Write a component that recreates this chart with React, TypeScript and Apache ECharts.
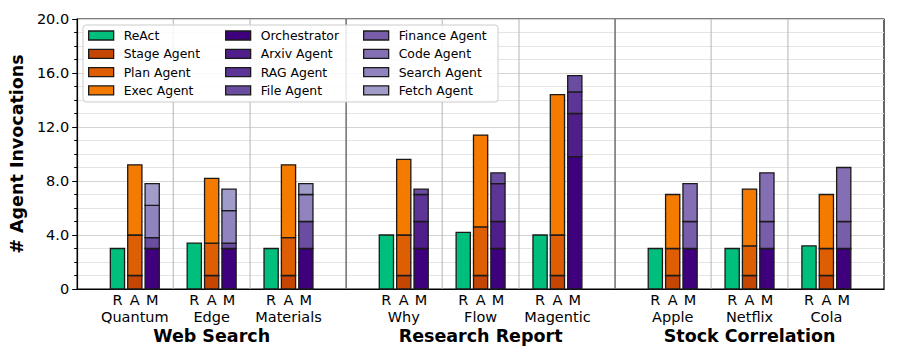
import React, { useEffect, useRef } from "react";
import * as echarts from "echarts";

// ---- data ----
const GROUPS = ["Quantum", "Edge", "Materials", "Why", "Flow", "Magentic", "Apple", "Netflix", "Cola"];
const SECTIONS = ["Web Search", "Research Report", "Stock Correlation"];
const BAR_LABELS = ["R", "A", "M"];

// segment values per group (same order as GROUPS)
const REACT = [3.0, 3.4, 3.0, 4.0, 4.2, 4.0, 3.0, 3.0, 3.2];
const STAGE = [1.0, 1.0, 1.0, 1.0, 1.0, 1.0, 1.0, 1.0, 1.0];
const PLAN = [3.0, 2.4, 2.8, 3.0, 3.6, 3.0, 2.0, 2.2, 2.0];
const EXEC = [5.2, 4.8, 5.4, 5.6, 6.8, 10.4, 4.0, 4.2, 4.0];
const ORCH = [3.0, 3.0, 3.0, 3.0, 3.0, 9.8, 3.0, 3.0, 3.0];
const ARXIV = [0, 0, 0, 2.0, 2.0, 3.2, 0, 0, 0];
const RAG = [0, 0, 0, 2.0, 2.8, 1.6, 0, 0, 0];
const FILE = [0.8, 0.4, 2.0, 0.4, 0.8, 1.2, 0, 0, 0];
const FINANCE = [0, 0, 0, 0, 0, 0, 2.0, 2.0, 2.0];
const CODE = [0, 0, 0, 0, 0, 0, 2.8, 3.6, 4.0];
const SEARCH = [2.4, 2.4, 2.0, 0, 0, 0, 0, 0, 0];
const FETCH = [1.6, 1.6, 0.8, 0, 0, 0, 0, 0, 0];

const AGENTS = [
  { name: "ReAct", stack: 0, values: REACT, color: "#00BF7D" },
  { name: "Stage Agent", stack: 1, values: STAGE, color: "#C44602" },
  { name: "Plan Agent", stack: 1, values: PLAN, color: "#DD5E03" },
  { name: "Exec Agent", stack: 1, values: EXEC, color: "#F57A00" },
  { name: "Orchestrator", stack: 2, values: ORCH, color: "#3F007D" },
  { name: "Arxiv Agent", stack: 2, values: ARXIV, color: "#4F1E8A" },
  { name: "RAG Agent", stack: 2, values: RAG, color: "#5C3596" },
  { name: "File Agent", stack: 2, values: FILE, color: "#6A4CA0" },
  { name: "Finance Agent", stack: 2, values: FINANCE, color: "#775DAA" },
  { name: "Code Agent", stack: 2, values: CODE, color: "#846FB4" },
  { name: "Search Agent", stack: 2, values: SEARCH, color: "#9183BE" },
  { name: "Fetch Agent", stack: 2, values: FETCH, color: "#A09CCA" },
];

const FONT = "DejaVu Sans";
const BAR_OFFSETS = [-0.226, 0, 0.226];
const BAR_W = 0.185;
const groupPos = (i: number) => i + Math.floor(i / 3) * 0.5;

export default function App() {
  const ref = useRef<HTMLDivElement>(null);

  useEffect(() => {
    if (!ref.current) return;
    const chart = echarts.init(ref.current, null, { renderer: "svg" });

    const cum = [0, 1, 2].map(() => GROUPS.map(() => 0));
    const barSeries = AGENTS.map((a) => {
      const data: number[][] = [];
      a.values.forEach((v, i) => {
        if (v > 0) {
          const base = cum[a.stack][i];
          data.push([groupPos(i) + BAR_OFFSETS[a.stack], base, base + v]);
          cum[a.stack][i] = base + v;
        }
      });
      return {
        type: "custom",
        name: a.name,
        z: 4,
        clip: false,
        itemStyle: { color: a.color },
        encode: { x: 0, y: [1, 2] },
        data,
        renderItem: (params: any, api: any) => {
          const x = api.value(0);
          const p0 = api.coord([x - BAR_W / 2, api.value(2)]);
          const p1 = api.coord([x + BAR_W / 2, api.value(1)]);
          return {
            type: "rect",
            shape: { x: p0[0], y: p0[1], width: p1[0] - p0[0], height: p1[1] - p0[1] },
            style: { fill: a.color, stroke: "#1a1a1a", lineWidth: 1.3 },
          };
        },
      };
    });

    // separators between groups / sections
    const sepData: number[][] = [];
    GROUPS.forEach((_, i) => {
      if (i < GROUPS.length - 1) {
        const mid = (groupPos(i) + groupPos(i + 1)) / 2;
        sepData.push([mid, (i + 1) % 3 === 0 ? 1 : 0]);
      }
    });
    const sepSeries = {
      type: "custom",
      name: "sep",
      z: 1,
      silent: true,
      clip: false,
      data: sepData,
      encode: { x: 0 },
      renderItem: (params: any, api: any) => {
        const x = api.value(0);
        const major = api.value(1) === 1;
        const a = api.coord([x, 0]);
        const b = api.coord([x, 20]);
        return {
          type: "line",
          shape: { x1: a[0], y1: a[1], x2: b[0], y2: b[1] },
          style: { stroke: major ? "#6e6e6e" : "#b4b4b4", lineWidth: major ? 1.5 : 1 },
        };
      },
    };

    const labelSeries = {
      type: "custom",
      name: "labels",
      z: 4,
      silent: true,
      clip: false,
      data: GROUPS.map((g, i) => [groupPos(i), i]),
      encode: { x: 0 },
      renderItem: (params: any, api: any) => {
        const x = api.value(0);
        const i = api.value(1);
        const children: any[] = [];
        BAR_LABELS.forEach((l, k) => {
          const p = api.coord([x + BAR_OFFSETS[k], 0]);
          children.push({
            type: "text",
            x: p[0],
            y: p[1] + 11,
            style: { text: l, fill: "#000", font: `14.5px '${FONT}'`, align: "center", verticalAlign: "middle" },
          });
        });
        const c = api.coord([x, 0]);
        children.push({
          type: "text",
          x: c[0],
          y: c[1] + 28,
          style: { text: GROUPS[i], fill: "#000", font: `14.5px '${FONT}'`, align: "center", verticalAlign: "middle" },
        });
        if (i % 3 === 1) {
          children.push({
            type: "text",
            x: c[0],
            y: c[1] + 47,
            style: {
              text: SECTIONS[Math.floor(i / 3)],
              fill: "#000",
              font: `bold 17.5px '${FONT}'`,
              align: "center",
              verticalAlign: "middle",
            },
          });
        }
        return { type: "group", children };
      },
    };

    const legendCols = [88, 225, 363];
    const legends = legendCols.map((left, c) => ({
      orient: "vertical",
      left,
      top: 26.5,
      padding: 0,
      itemWidth: 25,
      itemHeight: 9,
      itemGap: 0.3,
      selectedMode: false,
      z: 6,
      textStyle: { fontFamily: FONT, fontSize: 12.4, color: "#000", lineHeight: 18, padding: [0, 0, 0, 5] },
      data: AGENTS.slice(c * 4, c * 4 + 4).map((a) => ({
        name: a.name,
        icon: "rect",
        itemStyle: { color: a.color, borderColor: "#1a1a1a", borderWidth: 1.3 },
      })),
    }));

    chart.setOption({
      animation: false,
      backgroundColor: "#fff",
      grid: { left: 77, right: 13, top: 19, bottom: 70, show: true, borderColor: "#000", borderWidth: 1.2 },
      xAxis: {
        type: "value",
        min: -0.75,
        max: 9.75,
        axisLabel: { show: false },
        axisTick: { show: false },
        splitLine: { show: false },
        axisLine: { show: true, onZero: false, lineStyle: { color: "#000", width: 1.2 } },
      },
      yAxis: {
        type: "value",
        min: 0,
        max: 20,
        interval: 4,
        name: "# Agent Invocations",
        nameLocation: "middle",
        nameGap: 46,
        nameTextStyle: { fontFamily: FONT, fontSize: 17.5, fontWeight: "bold", color: "#000" },
        axisLine: { show: true, onZero: false, lineStyle: { color: "#000", width: 1.2 } },
        axisTick: { show: true, length: 5, lineStyle: { color: "#000" } },
        minorTick: { show: true, splitNumber: 4, length: 3, lineStyle: { color: "#000" } },
        axisLabel: {
          fontFamily: FONT,
          fontSize: 14.5,
          color: "#000",
          margin: 8,
          formatter: (v: number) => (v === 0 ? "0" : v.toFixed(1)),
        },
        splitLine: { show: true, lineStyle: { color: "#d4d4d4", width: 1.2 } },
        minorSplitLine: { show: true, lineStyle: { color: "#e4e4e4", width: 1 } },
      },
      legend: legends,
      graphic: [
        {
          type: "rect",
          z: 3,
          silent: true,
          shape: { x: 83, y: 25, width: 415, height: 77, r: 3 },
          style: { fill: "rgba(255,255,255,0.85)", stroke: "#cccccc", lineWidth: 1 },
        },
      ],
      series: [sepSeries, ...barSeries, labelSeries],
    });

    return () => chart.dispose();
  }, []);

  return <div ref={ref} style={{ position: "fixed", left: 0, top: 0, width: 897, height: 359 }} />;
}
